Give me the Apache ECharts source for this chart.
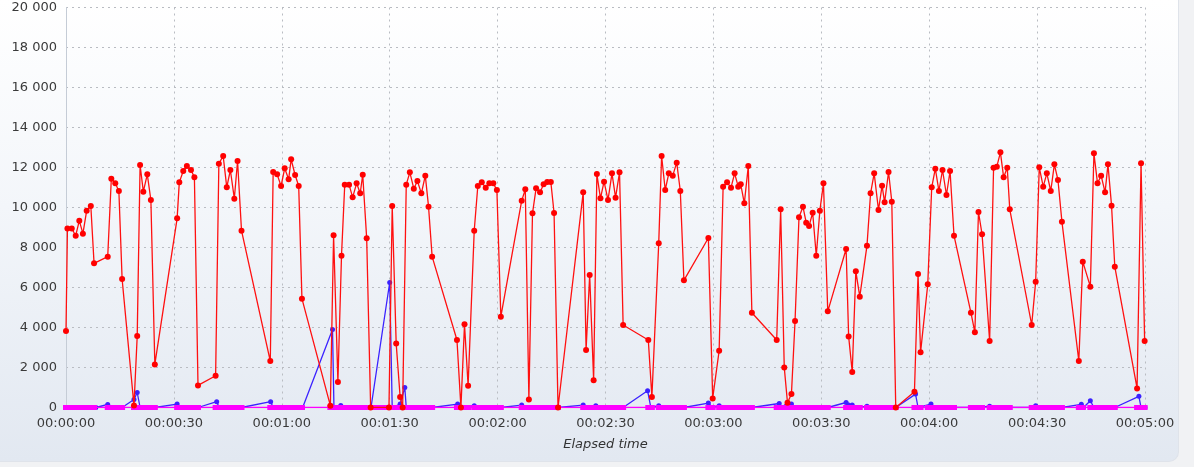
<!DOCTYPE html>
<html>
<head>
<meta charset="utf-8">
<script src="https://cdn.jsdelivr.net/npm/echarts@6/dist/echarts.min.js"></script>
<style>
  html, body { margin: 0; padding: 0; width: 1194px; height: 467px; overflow: hidden; background: #f1f2f4; }
  #panel { position: absolute; left: 0; top: 0; width: 1178px; height: 461px;
           background: linear-gradient(to bottom, #ffffff 0%, #f3f6fa 45%, #e2e8f1 100%);
           border-right: 1px solid #dfe3ea; border-bottom: 1px solid #dfe3ea; border-radius: 0 0 10px 0; }
  #chart { position: absolute; left: 0; top: 0; width: 1194px; height: 467px; }
</style>
</head>
<body>
<div id="panel"></div>
<div id="chart"></div>
<script>
// Elapsed time (s) of the red samples
const redTimes = [0, 0.4, 1.6, 2.7, 3.7, 4.7, 5.75, 6.9, 7.8, 11.6, 12.6, 13.7, 14.7, 15.6, 18.9, 19.8, 20.6, 21.5, 22.6, 23.6,
  24.7, 30.9, 31.5, 32.6, 33.6, 34.75, 35.7, 36.7, 41.6, 42.5, 43.7, 44.7, 45.7, 46.8, 47.7, 48.8, 56.8, 57.6, 58.7, 59.8,
  60.8, 61.9, 62.6, 63.7, 64.7, 65.6, 73.5, 74.4, 75.6, 76.6, 77.5, 78.7, 79.7, 80.8, 81.8, 82.5, 83.6, 84.7, 89.8, 90.7,
  91.8, 92.9, 93.6, 94.6, 95.6, 96.7, 97.7, 98.8, 99.9, 100.8, 101.8, 108.7, 109.8, 110.8, 111.8, 113.5, 114.5, 115.6, 116.7, 117.7,
  118.8, 119.8, 120.9, 126.7, 127.7, 128.7, 129.7, 130.7, 131.8, 132.8, 133.8, 134.8, 135.7, 136.8, 143.8, 144.6, 145.6, 146.7, 147.6, 148.6,
  149.6, 150.7, 151.8, 152.8, 153.9, 154.9, 161.9, 162.9, 164.8, 165.6, 166.6, 167.6, 168.7, 169.8, 170.8, 171.8, 178.6, 179.8, 181.6, 182.7,
  183.8, 184.9, 185.9, 186.9, 187.6, 188.6, 189.7, 190.7, 197.6, 198.7, 199.7, 200.6, 201.7, 202.7, 203.8, 204.9, 205.8, 206.6, 207.6, 208.6,
  209.6, 210.6, 211.8, 216.9, 217.6, 218.6, 219.6, 220.7, 222.7, 223.7, 224.7, 225.9, 226.9, 227.6, 228.7, 229.6, 230.7, 235.9, 236.9, 237.6,
  239.6, 240.7, 241.7, 242.7, 243.7, 244.8, 245.8, 246.9, 251.6, 252.7, 253.7, 254.7, 256.8, 257.9, 258.8, 259.8, 260.7, 261.7, 262.4, 268.5,
  269.6, 270.6, 271.7, 272.7, 273.8, 274.8, 275.8, 276.9, 281.6, 282.7, 284.8, 285.8, 286.8, 287.8, 288.9, 289.7, 290.7, 291.6, 297.8, 298.9, 299.9];
const redValues = [3820, 8950, 8950, 8590, 9340, 8690, 9840, 10075, 7210, 7540, 11440, 11210, 10825, 6424, 100, 3575, 12125, 10790, 11660, 10375,
  2155, 9458, 11258, 11825, 12075, 11875, 11508, 1106, 1590, 12192, 12575, 11008, 11875, 10441, 12325, 8841, 2323, 11775, 11658, 11075,
  11958, 11408, 12408, 11625, 11075, 5440, 90, 8608, 1275, 7590, 11141, 11141, 10508, 11208, 10708, 11641, 8458, 0, 0, 10075,
  3206, 523, 0, 11141, 11758, 10941, 11325, 10708, 11591, 10041, 7541, 3375, 0, 4157, 1090, 8841, 11075, 11258, 10991, 11208,
  11208, 10875, 4540, 10341, 10908, 405, 9708, 10958, 10758, 11158, 11275, 11275, 9725, 0, 10758, 2875, 6625, 1358, 11675, 10458,
  11292, 10375, 11708, 10491, 11758, 4125, 3375, 523, 8208, 12575, 10875, 11708, 11591, 12241, 10825, 6357, 8475, 456, 2841, 11041,
  11258, 10991, 11708, 11041, 11158, 10208, 12075, 4740, 3375, 9908, 2006, 240, 673, 4325, 9508, 10041, 9241, 9075, 9741, 7591,
  9841, 11208, 4807, 7925, 3556, 1773, 6807, 5541, 8091, 10708, 11708, 9875, 11091, 10258, 11775, 10291, 0, 790, 6675, 2758,
  6158, 11008, 11941, 10825, 11875, 10625, 11825, 8591, 4740, 3758, 9775, 8658, 3325, 11991, 12041, 12758, 11508, 11991, 9908, 4125,
  6291, 12008, 11041, 11708, 10825, 12158, 11375, 9291, 2323, 7291, 6041, 12708, 11208, 11591, 10758, 12158, 10091, 7041, 956, 12208, 3325];

// Blue series samples (time s, value)
const blueTimes = [0, 8.3, 11.6, 12.6, 15.6, 18.9, 19.8, 20.6, 24.7, 30.9, 31.5, 36.7, 41.9, 42.6, 48.8, 56.9, 57.6, 65.8, 74.1, 74.5,
  76.4, 77.0, 84.8, 90.0, 90.7, 92.9, 94.2, 94.6, 101.8, 108.9, 109.8, 113.5, 114.5, 120.9, 126.7, 127.7, 136.8, 143.8, 144.6, 147.3,
  148.0, 154.9, 161.7, 162.6, 164.8, 165.6, 171.8, 178.6, 179.8, 181.6, 182.7, 190.7, 198.3, 199.0, 200.6, 201.7, 202.7, 211.8, 216.9, 217.6,
  218.6, 219.6, 222.7, 223.7, 230.7, 236.2, 236.9, 240.5, 241.5, 251.6, 256.8, 257.9, 262.4, 268.5, 269.6, 270.6, 276.9, 282.3, 282.9, 284.8,
  285.8, 291.6, 298.3, 298.9, 300];
const blueValues = [0, 0, 150, 0, 0, 400, 750, 0, 0, 170, 0, 0, 290, 0, 0, 290, 0, 0, 3900, 0,
  100, 0, 0, 6250, 0, 170, 1000, 0, 0, 170, 0, 90, 0, 0, 120, 0, 0, 120, 0, 90,
  0, 0, 840, 0, 90, 0, 0, 220, 0, 90, 0, 0, 200, 0, 250, 170, 0, 0, 250, 120,
  120, 0, 60, 0, 0, 670, 0, 170, 0, 0, 60, 0, 0, 0, 90, 0, 0, 160, 0, 340,
  0, 0, 560, 0, 0];

// Magenta series: zero at every sampled time
const magentaExtraTimes = [85.7, 86.7, 87.7, 88.8];
const magentaTimes = redTimes.concat(magentaExtraTimes).sort((a, b) => a - b);
const magentaValues = magentaTimes.map(() => 0);

const xTickInterval = 30;
const yTickInterval = 2000;

function pad(n) { return (n < 10 ? '0' : '') + n; }
function fmtTime(s) {
  s = Math.round(s);
  return pad(Math.floor(s / 3600)) + ':' + pad(Math.floor((s % 3600) / 60)) + ':' + pad(s % 60);
}
function fmtNum(v) { return String(v).replace(/\B(?=(\d{3})+(?!\d))/g, ' '); }
function zip(t, v) { return t.map((x, i) => [x, v[i]]); }

const chart = echarts.init(document.getElementById('chart'), null, { renderer: 'canvas' });
chart.setOption({
  animation: false,
  backgroundColor: 'transparent',
  textStyle: { fontFamily: 'DejaVu Sans' },
  grid: { left: 66, right: 49, top: 7.5, bottom: 59.5, containLabel: false },
  xAxis: {
    type: 'value', min: 0, max: 300, interval: xTickInterval,
    name: 'Elapsed time', nameLocation: 'middle', nameGap: 31,
    nameTextStyle: { fontStyle: 'italic', fontSize: 13, color: '#333', fontFamily: 'DejaVu Sans' },
    axisLine: { show: true, lineStyle: { color: '#c5ccd6', width: 1 } },
    axisTick: { show: false },
    axisLabel: { formatter: fmtTime, fontSize: 13, color: '#3a3a3a', margin: 10, fontFamily: 'DejaVu Sans' },
    splitLine: { show: true, lineStyle: { color: '#b9bcc2', type: [2, 4], width: 1 } }
  },
  yAxis: {
    type: 'value', min: 0, max: 20000, interval: yTickInterval,
    axisLine: { show: true, lineStyle: { color: '#c5ccd6', width: 1 } },
    axisTick: { show: false },
    axisLabel: { formatter: fmtNum, fontSize: 13, color: '#3a3a3a', margin: 9, fontFamily: 'DejaVu Sans' },
    splitLine: { show: true, lineStyle: { color: '#b9bcc2', type: [2, 4], width: 1 } }
  },
  series: [
    {
      name: 'blue', type: 'line', data: zip(blueTimes, blueValues),
      symbol: 'circle', symbolSize: 5, showAllSymbol: true,
      lineStyle: { color: '#3b22ff', width: 1.3 }, itemStyle: { color: '#3b22ff' }, z: 2
    },
    {
      name: 'magenta', type: 'line', data: zip(magentaTimes, magentaValues),
      symbol: 'rect', symbolSize: [6, 5], showAllSymbol: true,
      lineStyle: { color: '#ff00ff', width: 1.5 }, itemStyle: { color: '#ff00ff' }, z: 3
    },
    {
      name: 'red', type: 'line', data: zip(redTimes, redValues),
      symbol: 'circle', symbolSize: 6, showAllSymbol: true,
      lineStyle: { color: '#ff1010', width: 1.3 }, itemStyle: { color: '#ff0000' }, z: 4
    }
  ]
});
</script>
</body>
</html>
